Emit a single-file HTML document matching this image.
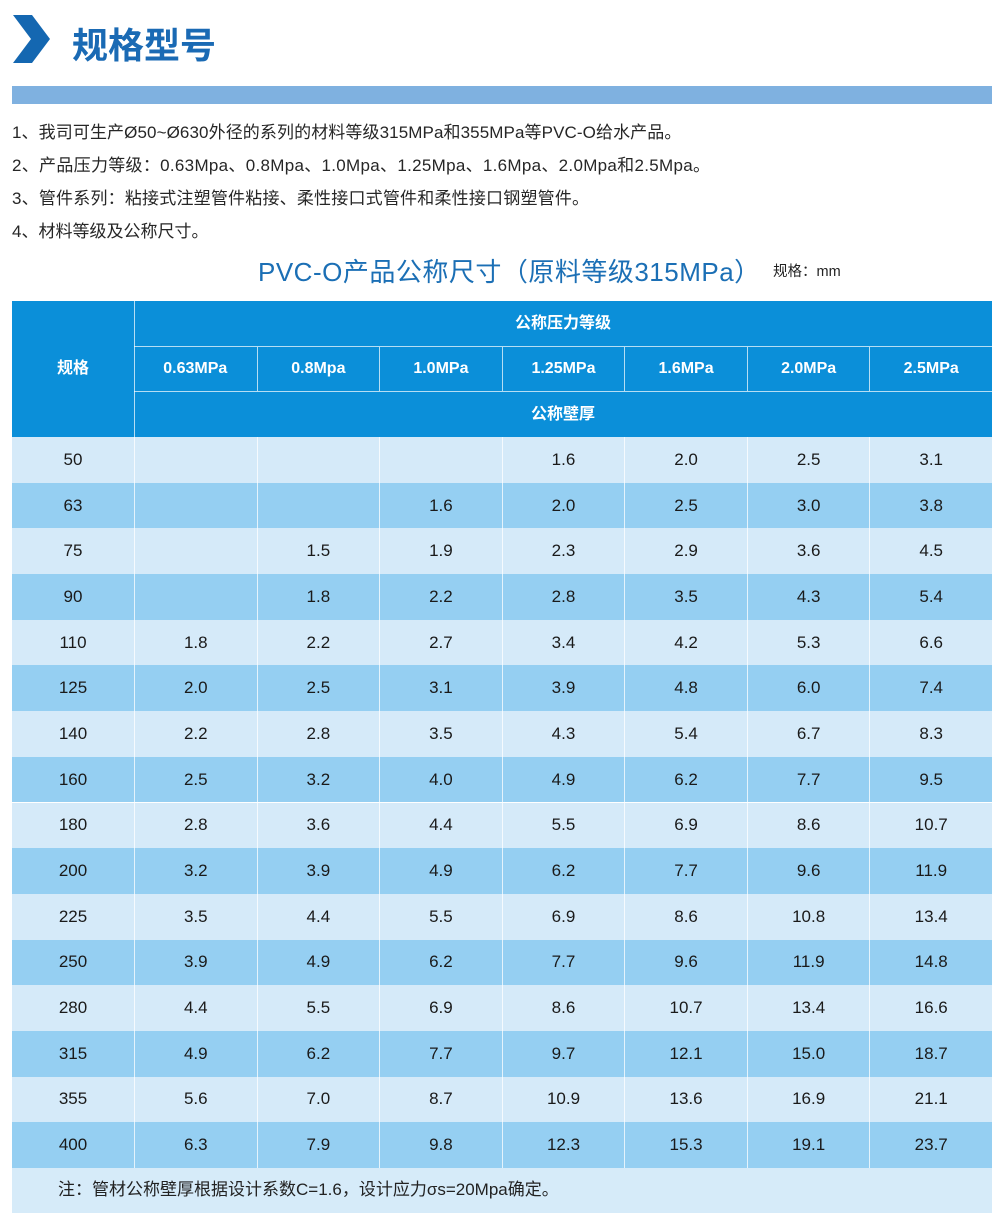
<!DOCTYPE html>
<html><head><meta charset="utf-8">
<style>
*{margin:0;padding:0;box-sizing:border-box}
html,body{width:1000px;height:1232px;background:#fff;overflow:hidden}
body{position:relative;font-family:"Liberation Sans","Noto Sans CJK SC",sans-serif;color:#222}
.abs{position:absolute}
.h1{left:72px;top:20px;font-size:36px;line-height:46px;color:#1a6ab4;font-weight:600;letter-spacing:0px;font-family:"Noto Sans CJK SC",sans-serif}
.bar{left:12px;top:86px;width:980px;height:18px;background:#7fb1e0}
.p{left:12px;font-size:17px;line-height:22px;color:#262626;white-space:nowrap}
.title{left:258px;top:256px;font-size:26px;line-height:32px;color:#1b6fb5;white-space:nowrap;letter-spacing:0.5px}
.unit{left:773px;top:262px;font-size:14.5px;line-height:20px;color:#222;white-space:nowrap}
.tbl{left:12px;top:301px;width:980px}
.hdr{position:absolute;left:0;top:0;width:980px;height:136px;background:#0b8fd9}
.hdr div{position:absolute;color:#fff;font-weight:bold;font-size:16px;text-align:center}
.row{position:absolute;left:0;width:980px;display:grid;grid-template-columns:122px repeat(7,1fr)}
.row div{text-align:center;font-size:17px;color:#1a1a1a;border-left:1px solid rgba(255,255,255,.75);display:flex;align-items:center;justify-content:center}
.row div:first-child{border-left:none}
.l{background:#d5eaf9}
.d{background:#95cff2}
.note{position:absolute;left:0;width:980px;background:#d6ebf9}
</style></head><body>
<svg class="abs" style="left:0;top:0" width="60" height="70"><polygon points="13,15 32,15 50,39 32,63 13,63 31,39" fill="#1467b1"/></svg>
<div class="abs h1">规格型号</div>
<div class="abs bar"></div>
<div class="abs p" style="top:122px;letter-spacing:0.1px">1、我司可生产Ø50~Ø630外径的系列的材料等级315MPa和355MPa等PVC-O给水产品。</div>
<div class="abs p" style="top:155px;letter-spacing:0.3px">2、产品压力等级：0.63Mpa、0.8Mpa、1.0Mpa、1.25Mpa、1.6Mpa、2.0Mpa和2.5Mpa。</div>
<div class="abs p" style="top:188px;letter-spacing:0.2px">3、管件系列：粘接式注塑管件粘接、柔性接口式管件和柔性接口钢塑管件。</div>
<div class="abs p" style="top:221px">4、材料等级及公称尺寸。</div>
<div class="abs title">PVC-O产品公称尺寸（原料等级315MPa）</div>
<div class="abs unit">规格：mm</div>
<div class="abs tbl">
 <div class="hdr">
  <div style="left:0;top:0;width:122px;height:136px;line-height:136px">规格</div>
  <div style="left:122px;top:0;width:1px;height:136px;background:rgba(255,255,255,.7)"></div>
  <div style="left:122px;top:0;width:858px;height:45px;line-height:45px">公称压力等级</div>
  <div style="left:122px;top:45px;width:858px;height:1px;background:rgba(255,255,255,.7)"></div>
  <div style="left:122px;top:90px;width:858px;height:1px;background:rgba(255,255,255,.7)"></div>
  <div style="left:122px;top:91px;width:858px;height:45px;line-height:45px">公称壁厚</div>
  <div style="left:122px;top:46px;width:122.57px;height:44px;line-height:44px">0.63MPa</div>
  <div style="left:244.57px;top:46px;width:122.57px;height:44px;line-height:44px;border-left:1px solid rgba(255,255,255,.7)">0.8Mpa</div>
  <div style="left:367.14px;top:46px;width:122.57px;height:44px;line-height:44px;border-left:1px solid rgba(255,255,255,.7)">1.0MPa</div>
  <div style="left:489.71px;top:46px;width:122.57px;height:44px;line-height:44px;border-left:1px solid rgba(255,255,255,.7)">1.25MPa</div>
  <div style="left:612.29px;top:46px;width:122.57px;height:44px;line-height:44px;border-left:1px solid rgba(255,255,255,.7)">1.6MPa</div>
  <div style="left:734.86px;top:46px;width:122.57px;height:44px;line-height:44px;border-left:1px solid rgba(255,255,255,.7)">2.0MPa</div>
  <div style="left:857.43px;top:46px;width:122.57px;height:44px;line-height:44px;border-left:1px solid rgba(255,255,255,.7)">2.5MPa</div>
 </div>
 <div class="row l" style="top:136px;height:45.69px"><div>50</div><div></div><div></div><div></div><div>1.6</div><div>2.0</div><div>2.5</div><div>3.1</div></div>
 <div class="row d" style="top:181.69px;height:45.69px"><div>63</div><div></div><div></div><div>1.6</div><div>2.0</div><div>2.5</div><div>3.0</div><div>3.8</div></div>
 <div class="row l" style="top:227.38px;height:45.69px"><div>75</div><div></div><div>1.5</div><div>1.9</div><div>2.3</div><div>2.9</div><div>3.6</div><div>4.5</div></div>
 <div class="row d" style="top:273.06px;height:45.69px"><div>90</div><div></div><div>1.8</div><div>2.2</div><div>2.8</div><div>3.5</div><div>4.3</div><div>5.4</div></div>
 <div class="row l" style="top:318.75px;height:45.69px"><div>110</div><div>1.8</div><div>2.2</div><div>2.7</div><div>3.4</div><div>4.2</div><div>5.3</div><div>6.6</div></div>
 <div class="row d" style="top:364.44px;height:45.69px"><div>125</div><div>2.0</div><div>2.5</div><div>3.1</div><div>3.9</div><div>4.8</div><div>6.0</div><div>7.4</div></div>
 <div class="row l" style="top:410.13px;height:45.69px"><div>140</div><div>2.2</div><div>2.8</div><div>3.5</div><div>4.3</div><div>5.4</div><div>6.7</div><div>8.3</div></div>
 <div class="row d" style="top:455.81px;height:45.69px"><div>160</div><div>2.5</div><div>3.2</div><div>4.0</div><div>4.9</div><div>6.2</div><div>7.7</div><div>9.5</div></div>
 <div class="row l" style="top:501.5px;height:45.69px"><div>180</div><div>2.8</div><div>3.6</div><div>4.4</div><div>5.5</div><div>6.9</div><div>8.6</div><div>10.7</div></div>
 <div class="row d" style="top:547.19px;height:45.69px"><div>200</div><div>3.2</div><div>3.9</div><div>4.9</div><div>6.2</div><div>7.7</div><div>9.6</div><div>11.9</div></div>
 <div class="row l" style="top:592.88px;height:45.69px"><div>225</div><div>3.5</div><div>4.4</div><div>5.5</div><div>6.9</div><div>8.6</div><div>10.8</div><div>13.4</div></div>
 <div class="row d" style="top:638.56px;height:45.69px"><div>250</div><div>3.9</div><div>4.9</div><div>6.2</div><div>7.7</div><div>9.6</div><div>11.9</div><div>14.8</div></div>
 <div class="row l" style="top:684.25px;height:45.69px"><div>280</div><div>4.4</div><div>5.5</div><div>6.9</div><div>8.6</div><div>10.7</div><div>13.4</div><div>16.6</div></div>
 <div class="row d" style="top:729.94px;height:45.69px"><div>315</div><div>4.9</div><div>6.2</div><div>7.7</div><div>9.7</div><div>12.1</div><div>15.0</div><div>18.7</div></div>
 <div class="row l" style="top:775.63px;height:45.69px"><div>355</div><div>5.6</div><div>7.0</div><div>8.7</div><div>10.9</div><div>13.6</div><div>16.9</div><div>21.1</div></div>
 <div class="row d" style="top:821.31px;height:45.69px"><div>400</div><div>6.3</div><div>7.9</div><div>9.8</div><div>12.3</div><div>15.3</div><div>19.1</div><div>23.7</div></div>
 <div class="note" style="top:867px;height:45px"><div style="position:absolute;left:46px;top:11px;font-size:17px;line-height:22px;color:#222;white-space:nowrap">注：管材公称壁厚根据设计系数C=1.6，设计应力σs=20Mpa确定。</div></div>
</div>
</body></html>
